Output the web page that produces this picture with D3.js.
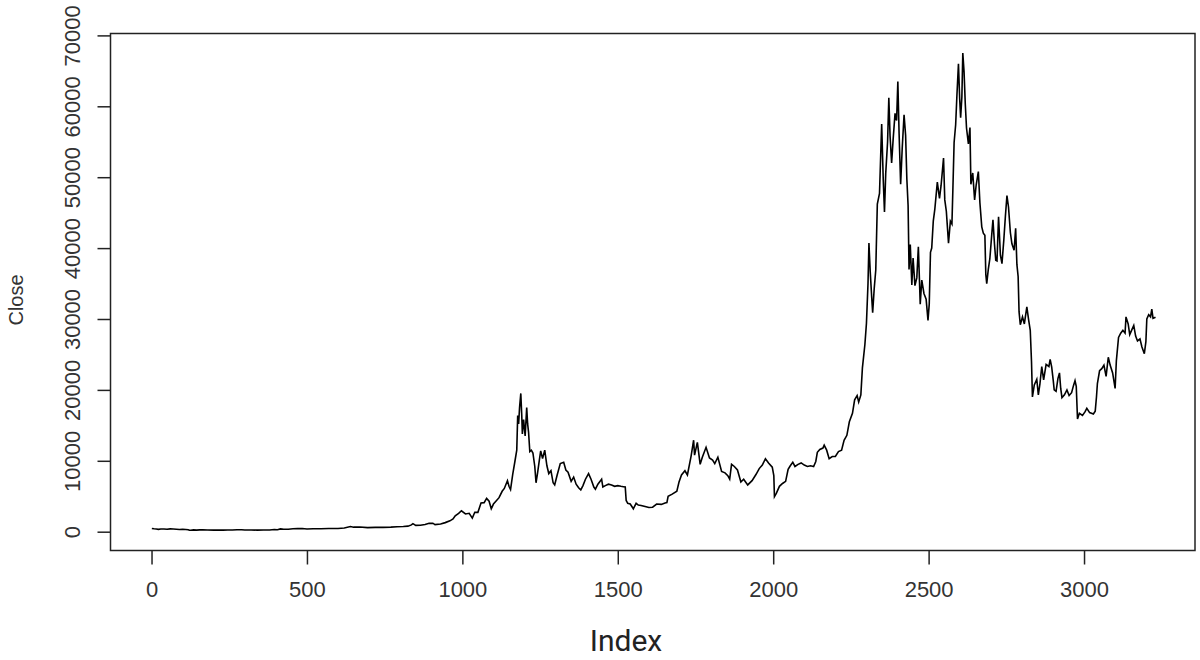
<!DOCTYPE html>
<html><head><meta charset="utf-8">
<script src="https://cdn.jsdelivr.net/npm/d3@7"></script>
<style>html,body{margin:0;padding:0;background:#fff;}svg{display:block;}</style>
</head><body>
<svg id="chart" width="1200" height="660"></svg>
<script>
// ---- data ----
const index = [1,8,15,22,30,40,50,60,70,80,90,100,110,118,122,126,135,145,155,165,180,200,215,230,245,260,275,290,300,320,340,360,380,395,405,415,425,440,455,470,485,500,520,545,570,600,620,640,650,670,695,720,745,770,790,810,825,836,841,850,865,880,893,905,912,930,945,960,970,977,988,997,1010,1022,1032,1040,1050,1060,1070,1078,1086,1093,1100,1110,1118,1128,1135,1145,1150,1155,1162,1169,1175,1178,1181,1184,1188,1191,1193,1197,1202,1207,1210,1213,1217,1222,1227,1233,1237,1242,1248,1252,1258,1265,1272,1278,1285,1292,1297,1305,1315,1326,1333,1340,1350,1358,1366,1374,1381,1388,1396,1406,1414,1423,1428,1436,1448,1452,1460,1470,1480,1490,1500,1510,1518,1524,1527,1532,1540,1550,1559,1566,1575,1588,1600,1612,1625,1640,1652,1658,1662,1675,1690,1697,1705,1716,1724,1736,1744,1747,1756,1765,1772,1784,1795,1805,1812,1822,1834,1845,1854,1860,1866,1875,1885,1896,1905,1918,1932,1945,1955,1965,1975,1985,1997,2002,2004,2010,2020,2030,2040,2048,2055,2063,2070,2080,2090,2100,2110,2120,2130,2137,2142,2150,2160,2164,2172,2180,2190,2200,2210,2220,2228,2237,2245,2255,2262,2270,2275,2282,2287,2295,2300,2305,2308,2312,2317,2320,2325,2330,2335,2342,2349,2354,2358,2362,2368,2372,2376,2381,2386,2392,2397,2401,2405,2410,2415,2421,2426,2430,2434,2437,2441,2446,2450,2456,2462,2467,2473,2478,2485,2492,2498,2502,2506,2510,2515,2520,2528,2535,2540,2548,2552,2557,2564,2570,2575,2578,2582,2587,2591,2596,2600,2603,2607,2610,2614,2618,2622,2628,2633,2636,2642,2648,2653,2660,2665,2671,2676,2681,2684,2687,2692,2697,2704,2707,2712,2716,2720,2725,2731,2736,2742,2747,2752,2757,2763,2768,2775,2780,2784,2788,2791,2795,2802,2808,2816,2822,2827,2831,2834,2840,2848,2853,2858,2864,2870,2878,2887,2891,2896,2901,2904,2910,2916,2921,2925,2929,2937,2945,2952,2960,2966,2971,2975,2979,2985,2995,3003,3009,3018,3030,3036,3040,3043,3050,3057,3064,3071,3078,3084,3092,3100,3104,3111,3118,3125,3132,3135,3142,3147,3154,3160,3166,3172,3180,3186,3194,3199,3202,3208,3214,3218,3222,3228,3230];
const close = [457,410,390,330,385,380,345,395,370,350,320,330,315,270,200,215,255,225,255,270,245,225,245,225,240,250,285,265,230,235,225,240,245,315,270,400,335,350,420,430,440,375,415,425,445,450,530,730,640,660,575,605,610,640,700,740,785,960,1140,890,920,1010,1180,1200,1000,1080,1280,1530,1800,2250,2580,2950,2500,2600,1920,2750,2730,4050,4100,4700,4300,3230,3900,4390,4800,5700,6100,7200,6400,5950,8100,9900,11500,16400,15200,17500,19500,16500,13800,15800,13500,17500,15200,14000,11300,11500,11100,9200,6900,8300,10200,11400,10300,11500,9300,8200,8600,6900,6600,8000,9600,9800,8700,8400,7100,7700,6700,6200,5900,6500,7400,8200,7400,6300,6000,6700,7400,6300,6500,6700,6600,6400,6500,6400,6350,6300,4400,4000,3900,3230,4000,3750,3700,3550,3420,3450,3900,3850,4050,4100,5000,5300,5700,7000,8000,8600,8000,10700,12900,10800,12600,9500,10500,11900,10400,10100,9600,10500,8500,8300,7900,7400,9500,9200,8700,7000,7400,6600,7200,8100,8900,9400,10300,9700,9100,7900,4950,5400,6400,6800,7100,8800,9300,9800,9200,9500,9700,9400,9200,9300,9200,9900,11200,11600,11800,12200,11500,10300,10600,10600,11300,11500,12900,13600,15500,16700,18600,19200,18300,19300,23100,26400,29400,35000,40700,36800,33000,30900,34300,36900,46200,47700,57500,49700,45100,50500,55000,61200,55800,52000,55400,59000,58000,63500,56200,49000,54000,58800,55900,49700,46000,37000,40500,34800,38600,34700,35800,40200,32100,35500,33600,32800,29800,32100,39400,40000,43800,45500,49300,47000,48800,52700,46800,45200,40700,43800,43400,48200,54900,57400,61500,66000,61000,58400,61300,67500,64900,60300,56900,54700,57000,49000,50600,46800,48900,50800,46400,43000,42100,41800,36300,35000,37000,38500,42400,44000,40500,38300,38200,44400,39000,37800,41200,44500,47400,45800,42200,40600,39700,42800,37700,36000,31000,29200,30300,29300,31700,29800,28400,24000,19000,20700,21500,19300,20800,23300,21400,23600,23300,24300,23200,21300,20000,19800,21600,22400,20200,18900,19300,20000,19200,19600,20600,21300,20500,15900,16700,16400,16900,17400,16800,16600,17000,19000,20900,22700,23000,23500,21900,24600,23500,22400,20200,24100,27400,28000,28400,28000,30300,29300,27800,28500,29100,27600,26900,27200,26100,25100,26800,30000,30600,30300,31400,30100,30200,30250];
const xTicks = [0,500,1000,1500,2000,2500,3000];
const yTicks = [0,10000,20000,30000,40000,50000,60000,70000];
const xLabel = "Index";
const yLabel = "Close";

// ---- drawing ----
const svg = d3.select("#chart");
const L = 110.5, R = 1195, T = 33.5, B = 550.5;
const x = d3.scaleLinear().domain([-132, 3357]).range([L, R]);
const y = d3.scaleLinear().domain([-2652, 70268]).range([B, T]);
const data = index.map((d, i) => ({i: d, v: close[i]}));

svg.append("path")
  .datum(data)
  .attr("fill", "none")
  .attr("stroke", "#000")
  .attr("stroke-width", 1.6)
  .attr("stroke-linejoin", "miter")
  .attr("d", d3.line().x(d => x(d.i)).y(d => y(d.v)));

// box
svg.append("rect").attr("x", L).attr("y", T).attr("width", R - L).attr("height", B - T)
  .attr("fill", "none").attr("stroke", "#222").attr("stroke-width", 1.5);

// x axis
const xAxis = d3.axisBottom(x).tickValues(xTicks).tickSize(14).tickPadding(17).tickFormat(d3.format("d"));
const gx = svg.append("g").attr("transform", `translate(0,${B})`).call(xAxis);
gx.select(".domain").remove();
gx.selectAll(".tick line").attr("stroke", "#222").attr("stroke-width", 1.5);
gx.selectAll(".tick text").attr("font-family", "'Liberation Sans', Arial, sans-serif")
  .attr("font-size", 22).attr("fill", "#333");

// y axis (rotated labels)
const yAxis = d3.axisLeft(y).tickValues(yTicks).tickSize(13).tickFormat(d3.format("d"));
const gy = svg.append("g").attr("transform", `translate(${L},0)`).call(yAxis);
gy.select(".domain").remove();
gy.selectAll(".tick line").attr("stroke", "#222").attr("stroke-width", 1.5);
gy.selectAll(".tick text")
  .attr("x", null).attr("dy", null)
  .attr("transform", "translate(-31,0) rotate(-90)")
  .attr("text-anchor", "middle")
  .attr("font-family", "'Liberation Sans', Arial, sans-serif")
  .attr("font-size", 22).attr("fill", "#333");

// axis titles
svg.append("text").attr("x", 626).attr("y", 651).attr("text-anchor", "middle")
  .attr("font-family", "Roboto, 'Open Sans', sans-serif").attr("font-size", 30).attr("fill", "#222")
  .text(xLabel);
svg.append("text").attr("transform", "translate(23,300) rotate(-90)").attr("text-anchor", "middle")
  .attr("font-family", "'Liberation Sans', Arial, sans-serif").attr("font-size", 20).attr("fill", "#333")
  .text(yLabel);
</script>
</body></html>
